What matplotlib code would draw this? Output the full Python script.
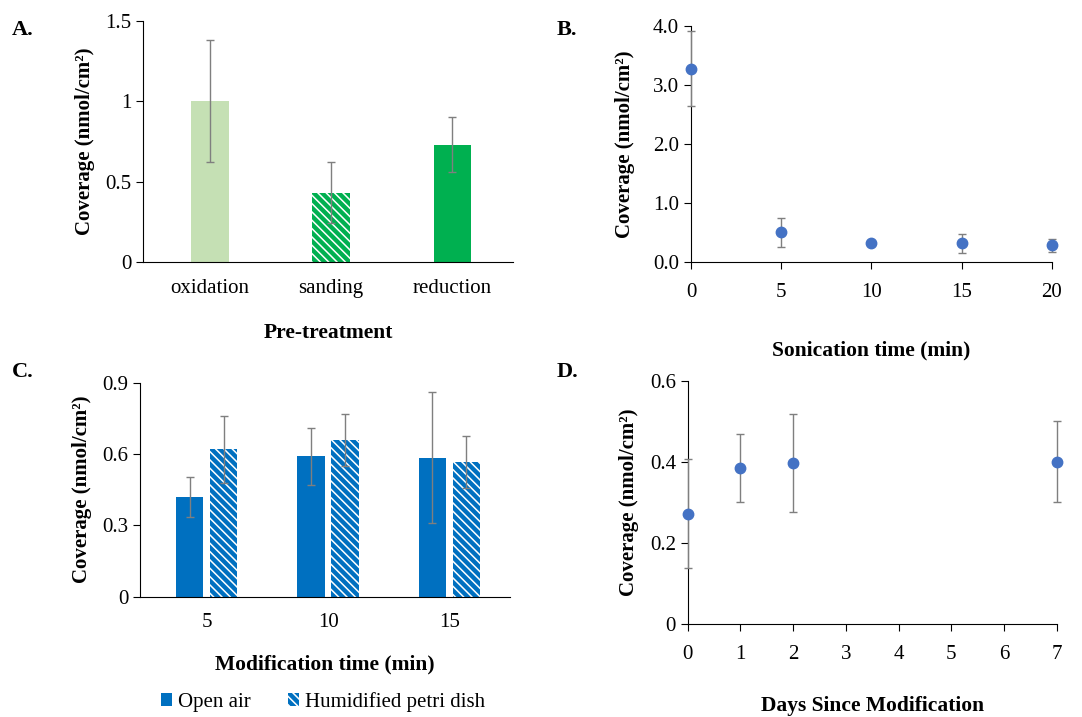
import numpy as np
import matplotlib
matplotlib.use("Agg")
import matplotlib.pyplot as plt
from matplotlib.patches import Patch

plt.rcParams['font.family'] = ['Liberation Serif', 'DejaVu Serif']
plt.rcParams['hatch.linewidth'] = 1.1

# Panel A - coverage by pre-treatment
pretreat = ['oxidation', 'sanding', 'reduction']
pretreat_cov = [1.00, 0.43, 0.73]
pretreat_err = [0.38, 0.19, 0.17]

# Panel B - coverage vs sonication time
sonic_t = [0, 5, 10, 15, 20]
sonic_cov = [3.28, 0.50, 0.32, 0.32, 0.28]
sonic_err = [0.63, 0.25, 0.03, 0.16, 0.11]

# Panel C - coverage vs modification time, two conditions
mod_t = ['5', '10', '15']
open_air = [0.42, 0.59, 0.585]
open_air_err = [0.083, 0.12, 0.275]
humid = [0.62, 0.66, 0.565]
humid_err = [0.14, 0.11, 0.11]

# Panel D - stability over days
days = [0, 1, 2, 7]
days_cov = [0.272, 0.385, 0.397, 0.40]
days_err = [0.135, 0.083, 0.12, 0.10]

green_light = '#C5E0B4'
green = '#00B050'
blue = '#0070C0'
dot = '#4472C4'
errc = '#7F7F7F'

fig = plt.figure(figsize=(10.82, 7.17), dpi=100)

tick_fs = 15
lab_fs = 15.5
ylab_fs = 15
ylab = 'Coverage (nmol/cm²)'


def style(ax):
    ax.spines['top'].set_visible(False)
    ax.spines['right'].set_visible(False)
    ax.tick_params(axis='both', labelsize=tick_fs, direction='out', length=5, width=0.8)


# ---------------- A ----------------
axA = fig.add_axes([0.1322, 0.6346, 0.342, 0.336])
style(axA)
xa = np.arange(len(pretreat))
axA.bar(xa[0], pretreat_cov[0], width=0.31, color=green_light)
axA.bar(xa[1], pretreat_cov[1], width=0.31, color=green, edgecolor='white',
        hatch='\\\\\\\\', linewidth=0)
axA.bar(xa[2], pretreat_cov[2], width=0.31, color=green)
axA.errorbar(xa, pretreat_cov, yerr=pretreat_err, fmt='none', ecolor=errc,
             elinewidth=1, capsize=3, capthick=1)
axA.set_xlim(-0.55, 2.5)
axA.set_ylim(0, 1.5)
axA.set_yticks([0, 0.5, 1, 1.5])
axA.set_yticklabels(['0', '0.5', '1', '1.5'])
axA.set_xticks(xa)
axA.set_xticklabels(pretreat)
axA.tick_params(axis='x', length=0, pad=12)
axA.set_xlabel('Pre-treatment', fontsize=lab_fs, fontweight='bold', labelpad=18)
axA.set_ylabel(ylab, fontsize=ylab_fs, fontweight='bold', labelpad=7)

# ---------------- B ----------------
axB = fig.add_axes([0.6386, 0.6346, 0.3336, 0.3291])
style(axB)
axB.errorbar(sonic_t, sonic_cov, yerr=sonic_err, fmt='o', color=dot, ms=7.5,
             ecolor=errc, elinewidth=1, capsize=3, capthick=1, clip_on=False, zorder=3)
axB.set_xlim(0, 20)
axB.set_ylim(0, 4.0)
axB.set_xticks([0, 5, 10, 15, 20])
axB.set_yticks([0, 1, 2, 3, 4])
axB.set_yticklabels(['0.0', '1.0', '2.0', '3.0', '4.0'])
axB.tick_params(axis='x', pad=10)
axB.set_xlabel('Sonication time (min)', fontsize=lab_fs, fontweight='bold', labelpad=28)
axB.set_ylabel(ylab, fontsize=ylab_fs, fontweight='bold', labelpad=13)

# ---------------- C ----------------
axC = fig.add_axes([0.1294, 0.1678, 0.342, 0.2985])
style(axC)
xc = np.arange(len(mod_t))
w = 0.225
axC.bar(xc - 0.14, open_air, width=w, color=blue, label='Open air')
axC.bar(xc + 0.14, humid, width=w, color=blue, edgecolor='white',
        hatch='\\\\\\\\', linewidth=0, label='Humidified petri dish')
axC.errorbar(xc - 0.14, open_air, yerr=open_air_err, fmt='none', ecolor=errc,
             elinewidth=1, capsize=3, capthick=1)
axC.errorbar(xc + 0.14, humid, yerr=humid_err, fmt='none', ecolor=errc,
             elinewidth=1, capsize=3, capthick=1)
axC.set_xlim(-0.55, 2.5)
axC.set_ylim(0, 0.9)
axC.set_yticks([0, 0.3, 0.6, 0.9])
axC.set_yticklabels(['0', '0.3', '0.6', '0.9'])
axC.set_xticks(xc)
axC.set_xticklabels(mod_t)
axC.tick_params(axis='x', length=0, pad=12)
axC.set_xlabel('Modification time (min)', fontsize=lab_fs, fontweight='bold', labelpad=16)
axC.set_ylabel(ylab, fontsize=ylab_fs, fontweight='bold', labelpad=7)

handles = [Patch(facecolor=blue, label='Open air'),
           Patch(facecolor=blue, edgecolor='white', hatch='\\\\\\\\', linewidth=0,
                 label='Humidified petri dish')]
fig.legend(handles=handles, loc='center', bbox_to_anchor=(323 / 1082, 1 - 702 / 717),
           ncol=2, frameon=False, fontsize=tick_fs, handlelength=0.55, handleheight=0.55,
           handletextpad=0.3, columnspacing=1.75)

# ---------------- D ----------------
axD = fig.add_axes([0.6356, 0.1297, 0.341, 0.3393])
style(axD)
axD.errorbar(days, days_cov, yerr=days_err, fmt='o', color=dot, ms=7.5,
             ecolor=errc, elinewidth=1, capsize=3, capthick=1, clip_on=False, zorder=3)
axD.set_xlim(0, 7)
axD.set_ylim(0, 0.6)
axD.set_xticks(range(8))
axD.set_yticks([0, 0.2, 0.4, 0.6])
axD.set_yticklabels(['0', '0.2', '0.4', '0.6'])
axD.tick_params(axis='x', pad=10)
axD.set_xlabel('Days Since Modification', fontsize=lab_fs, fontweight='bold', labelpad=23)
axD.set_ylabel(ylab, fontsize=ylab_fs, fontweight='bold', labelpad=8)

# panel letters
for lbl, x, y in [('A.', 12, 30), ('B.', 557, 30), ('C.', 12, 372), ('D.', 557, 372)]:
    fig.text(x / 1082, 1 - y / 717, lbl, fontsize=16, fontweight='bold', va='center')

fig.savefig('out.png', dpi=100)
